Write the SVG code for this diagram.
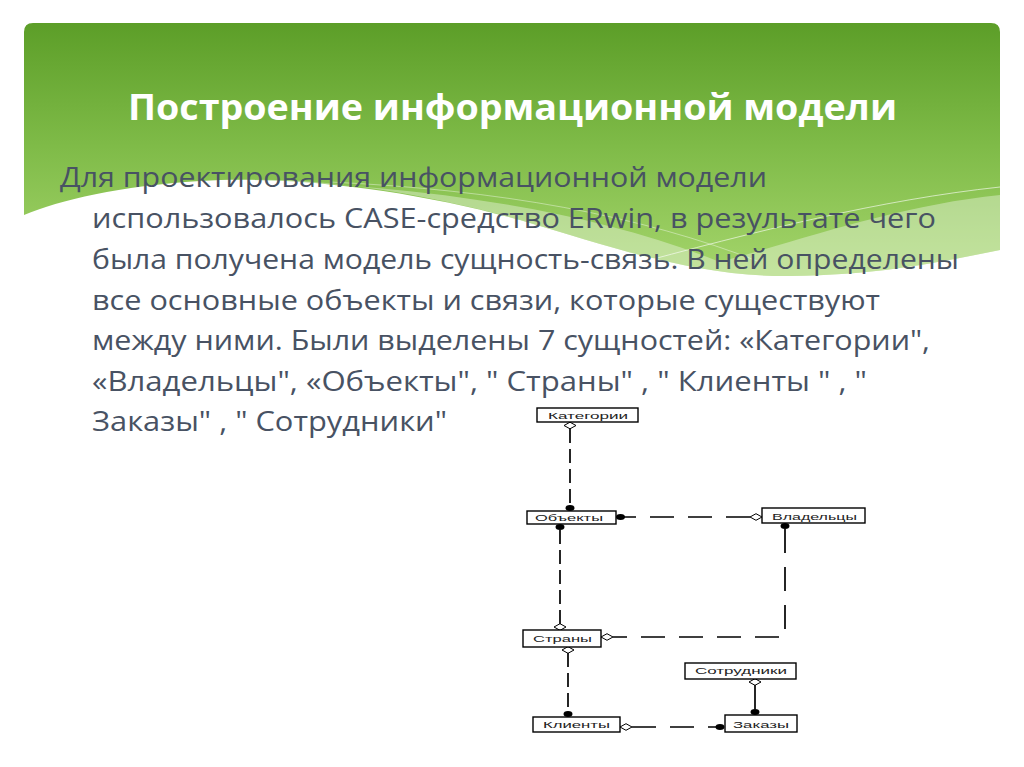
<svg xmlns="http://www.w3.org/2000/svg" width="1024" height="767" viewBox="0 0 1024 767">
<defs>
<linearGradient id="g" x1="0" y1="23" x2="0" y2="270" gradientUnits="userSpaceOnUse">
<stop offset="0" stop-color="#5c9e28"/>
<stop offset="0.5" stop-color="#7fbb48"/>
<stop offset="1" stop-color="#a3d46a"/>
</linearGradient>
<path id="dm" d="M-6,0 L0,-3.3 L6,0 L0,3.3 Z" fill="#fff" stroke="#000" stroke-width="1"/>
<ellipse id="dt" cx="0" cy="0" rx="4.5" ry="3" fill="#000"/>
<style>
.title{font-family:"Open Sans","Noto Sans",sans-serif;font-weight:bold;font-size:35px;fill:#fff}
.body{font-family:"Open Sans","Noto Sans",sans-serif;font-size:27px;fill:#485263}
.box rect{fill:#fff;stroke:#000;stroke-width:1.4}
.box text{font-family:"Liberation Sans",Arial,sans-serif;font-size:9px;fill:#222}
.c{fill:none;stroke:#000;stroke-width:1.7}
.v{stroke-dasharray:14 6}
.h{stroke-dasharray:24 14}
</style>
</defs>
<rect x="0" y="0" width="1024" height="767" fill="#fff"/>
<g id="banner">
<path d="M24,32 Q24,23 33,23 H991 Q1000,23 1000,32 V250 C940,262 880,275 790,276 C700,277 620,250 520,220 C420,192 300,175 200,181 C120,186 60,200 24,215 Z" fill="url(#g)"/>
<path d="M250,180 C400,185 580,205 720,262 C800,240 900,205 1000,195 V250 C940,262 880,275 790,276 C700,277 620,250 520,220 C420,192 320,178 250,180 Z" fill="#fff" fill-opacity="0.35"/>
<path d="M620,268 C760,230 880,200 1000,187" fill="none" stroke="#fff" stroke-opacity="0.6" stroke-width="1"/>
<path d="M330,182 C500,190 640,215 760,262" fill="none" stroke="#fff" stroke-opacity="0.4" stroke-width="1"/>
</g>
<text class="title" x="128" y="120" textLength="769" lengthAdjust="spacingAndGlyphs">Построение информационной модели</text>
<g id="bodytext">
<text class="body" x="60" y="187" textLength="707" lengthAdjust="spacingAndGlyphs">Для проектирования информационной модели</text>
<text class="body" x="92" y="228" textLength="844" lengthAdjust="spacingAndGlyphs">использовалось CASE-средство ERwin, в результате чего</text>
<text class="body" x="92" y="269" textLength="867" lengthAdjust="spacingAndGlyphs">была получена модель сущность-связь. В ней определены</text>
<text class="body" x="92" y="310" textLength="788" lengthAdjust="spacingAndGlyphs">все основные объекты и связи, которые существуют</text>
<text class="body" x="92" y="350" textLength="838" lengthAdjust="spacingAndGlyphs">между ними. Были выделены 7 сущностей: «Категории",</text>
<text class="body" x="92" y="391" textLength="775" lengthAdjust="spacingAndGlyphs">«Владельцы", «Объекты", " Страны" , " Клиенты " , "</text>
<text class="body" x="92" y="431" textLength="355" lengthAdjust="spacingAndGlyphs">Заказы" , " Сотрудники"</text>
</g>
<g id="connectors">
<path class="c v" d="M570,429 V505"/>
<use href="#dm" x="570" y="425.5"/><use href="#dt" x="570" y="508"/>
<path class="c h" d="M750,517 H624"/>
<use href="#dm" x="756" y="517"/><use href="#dt" x="620.5" y="517"/>
<path class="c v" d="M560,530 V624"/>
<use href="#dt" x="560" y="527"/><use href="#dm" x="560" y="627"/>
<path class="c h" d="M785,529 V637 H613"/>
<use href="#dt" x="785" y="526"/><use href="#dm" x="607" y="637"/>
<path class="c v" d="M568,653 V711"/>
<use href="#dm" x="568" y="650"/><use href="#dt" x="568" y="714"/>
<path class="c h" d="M632,727 H716"/>
<use href="#dm" x="626" y="727"/><use href="#dt" x="720" y="727"/>
<path class="c" d="M755,685 V709"/>
<use href="#dm" x="755" y="682"/><use href="#dt" x="755" y="712"/>
</g>
<g id="n-kategorii" class="box"><rect x="537" y="408" width="101" height="14"/><text x="548" y="418.5" textLength="80" lengthAdjust="spacingAndGlyphs">Категории</text></g>
<g id="n-obekty" class="box"><rect x="527" y="511" width="89" height="13"/><text x="535" y="520.5" textLength="68" lengthAdjust="spacingAndGlyphs">Объекты</text></g>
<g id="n-vladeltsy" class="box"><rect x="762" y="508" width="103" height="15"/><text x="772" y="519.5" textLength="85" lengthAdjust="spacingAndGlyphs">Владельцы</text></g>
<g id="n-strany" class="box"><rect x="523" y="630" width="78" height="17"/><text x="533" y="642" textLength="59" lengthAdjust="spacingAndGlyphs">Страны</text></g>
<g id="n-sotrudniki" class="box"><rect x="685" y="663" width="111" height="16"/><text x="695" y="674" textLength="92" lengthAdjust="spacingAndGlyphs">Сотрудники</text></g>
<g id="n-klienty" class="box"><rect x="533" y="717" width="87" height="15"/><text x="543" y="728" textLength="67" lengthAdjust="spacingAndGlyphs">Клиенты</text></g>
<g id="n-zakazy" class="box"><rect x="725" y="715" width="72" height="17"/><text x="733" y="727.5" textLength="56" lengthAdjust="spacingAndGlyphs">Заказы</text></g>
</svg>
